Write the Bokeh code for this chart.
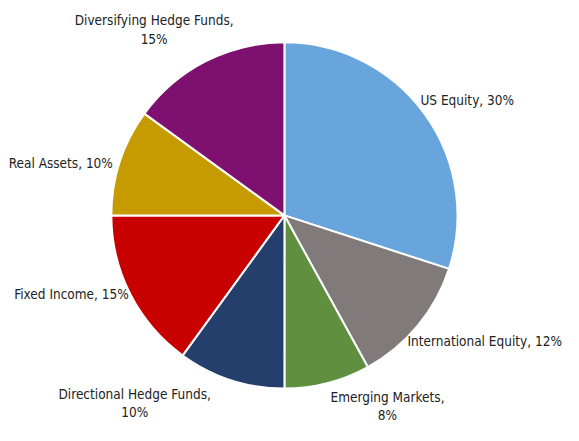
from math import pi
import numpy as np
from bokeh.plotting import figure
from bokeh.models import Range1d, ColumnDataSource
from bokeh.core.properties import value
from bokeh.embed import file_html
from bokeh.resources import INLINE

categories = ["US Equity", "International Equity", "Emerging Markets",
              "Directional Hedge Funds", "Fixed Income", "Real Assets",
              "Diversifying Hedge Funds"]
shares = [30, 12, 8, 10, 15, 10, 15]
colors = ["#67A5DC", "#807B7A", "#5F8F3F", "#253F6D", "#C80000", "#C59B00", "#7E116F"]
label_lines = [
    ["US Equity, 30%"],
    ["International Equity, 12%"],
    ["Emerging Markets,", "8%"],
    ["Directional Hedge Funds,", "10%"],
    ["Fixed Income, 15%"],
    ["Real Assets, 10%"],
    ["Diversifying Hedge Funds,", "15%"],
]
# label anchor (reference px, center of first line)
label_pos = [(480, 103), (498, 353), (398, 411), (138, 408), (73, 305), (62, 169), (158, 20)]

W, H = 563, 425
RW, RH = 579, 441

p = figure(width=W, height=H, output_backend="svg", toolbar_location=None,
           x_range=Range1d(0, RW), y_range=Range1d(0, RH), min_border=0)
p.axis.visible = False
p.grid.visible = False
p.outline_line_color = None

vals = np.array(shares, dtype=float)
frac = vals / vals.sum()
cum = np.concatenate([[0], np.cumsum(frac)])
start = pi / 2 - cum[1:] * 2 * pi
end = pi / 2 - cum[:-1] * 2 * pi
src = ColumnDataSource(dict(start=start, end=end, color=colors, cat=categories))
p.wedge(x=292, y=RH - 223, radius=178, start_angle="start", end_angle="end",
        fill_color="color", line_color="white", line_width=2, source=src)

xs, ys, ts = [], [], []
for lines, (lx, ly) in zip(label_lines, label_pos):
    for i, t in enumerate(lines):
        xs.append(lx)
        ys.append(RH - (ly + 19.5 * i))
        ts.append(t)
p.text(x=xs, y=ys, text=ts,
       text_font=value("'Liberation Sans Narrow', 'DejaVu Sans Condensed', sans-serif"),
       text_font_size="13.5px", text_color="#222222", text_align="center",
       text_baseline="middle")

open("out.html", "w").write(file_html(p, INLINE))
